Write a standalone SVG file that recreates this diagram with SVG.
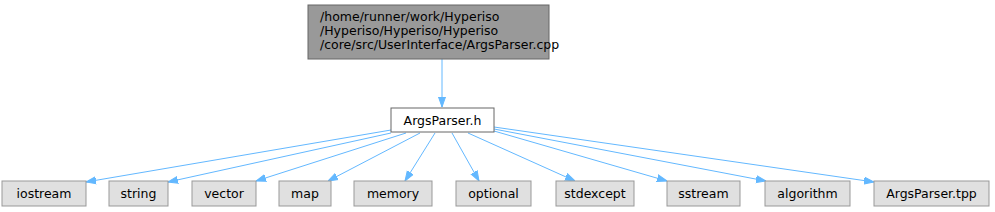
<svg xmlns="http://www.w3.org/2000/svg" width="995" height="212" viewBox="0 0 995 212">
<style>
text{font-family:"DejaVu Sans",sans-serif;font-size:12.5px;fill:#000;text-anchor:middle}
.lib rect{fill:#e0e0e0;stroke:#999999;stroke-width:1}
.e{fill:none;stroke:#63b8ff;stroke-width:1}
</style>
<defs>
<marker id="ah" viewBox="0 0 10 10" refX="10" refY="5" markerWidth="10" markerHeight="10" markerUnits="userSpaceOnUse" orient="auto">
<path d="M0,1.5L10,5L0,8.5z" fill="#63b8ff" stroke="#63b8ff"/>
</marker>
</defs>
<g id="edges">
<path class="e" d="M442,59V107" marker-end="url(#ah)"/>
<path class="e" d="M391,130L86,182" marker-end="url(#ah)"/>
<path class="e" d="M391,133L168,182" marker-end="url(#ah)"/>
<path class="e" d="M406,133L256,181" marker-end="url(#ah)"/>
<path class="e" d="M420,133L328,181" marker-end="url(#ah)"/>
<path class="e" d="M435,133L405,181" marker-end="url(#ah)"/>
<path class="e" d="M452,133L479,181" marker-end="url(#ah)"/>
<path class="e" d="M468,133L575,181" marker-end="url(#ah)"/>
<path class="e" d="M494,131L667,181" marker-end="url(#ah)"/>
<path class="e" d="M494,129L766,181" marker-end="url(#ah)"/>
<path class="e" d="M494,127L874,182" marker-end="url(#ah)"/>
</g>
<g id="n_main">
<rect x="308" y="5" width="241" height="54" fill="#999999" stroke="#666666"/>
<text x="320" y="21" style="text-anchor:start">/home/runner/work/Hyperiso</text>
<text x="320" y="35" style="text-anchor:start">/Hyperiso/Hyperiso/Hyperiso</text>
<text x="320" y="49" style="text-anchor:start">/core/src/UserInterface/ArgsParser.cpp</text>
</g>
<g id="n_argsparser_h">
<rect x="391" y="108" width="103" height="24" fill="#ffffff" stroke="#666666"/>
<text x="442.5" y="124.5">ArgsParser.h</text>
</g>
<g id="n_iostream" class="lib"><rect x="2" y="181" width="84" height="25"/><text x="44" y="198">iostream</text></g>
<g id="n_string" class="lib"><rect x="109" y="181" width="59" height="25"/><text x="138.5" y="198">string</text></g>
<g id="n_vector" class="lib"><rect x="192" y="181" width="64" height="25"/><text x="224" y="198">vector</text></g>
<g id="n_map" class="lib"><rect x="279" y="181" width="52" height="25"/><text x="305" y="198">map</text></g>
<g id="n_memory" class="lib"><rect x="354" y="181" width="78" height="25"/><text x="393" y="198">memory</text></g>
<g id="n_optional" class="lib"><rect x="456" y="181" width="75" height="25"/><text x="493.5" y="198">optional</text></g>
<g id="n_stdexcept" class="lib"><rect x="556" y="181" width="78" height="25"/><text x="595" y="198">stdexcept</text></g>
<g id="n_sstream" class="lib"><rect x="667" y="181" width="73" height="25"/><text x="703.5" y="198">sstream</text></g>
<g id="n_algorithm" class="lib"><rect x="765" y="181" width="85" height="25"/><text x="807.5" y="198">algorithm</text></g>
<g id="n_argsparser_tpp" class="lib"><rect x="874" y="181" width="115" height="25"/><text x="931.5" y="198">ArgsParser.tpp</text></g>
</svg>
